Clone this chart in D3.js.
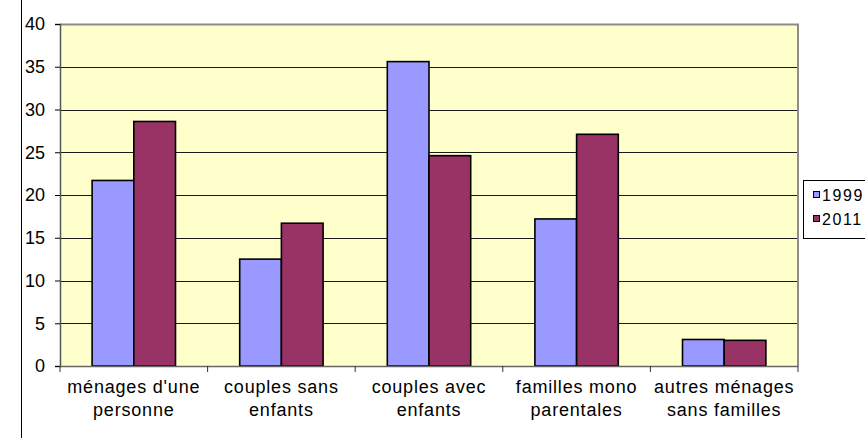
<!DOCTYPE html>
<html>
<head>
<meta charset="utf-8">
<script src="https://cdn.jsdelivr.net/npm/d3@7/dist/d3.min.js"></script>
<style>
  html, body { margin: 0; padding: 0; background: #fff; }
  svg { display: block; font-family: "Liberation Sans", Arial, sans-serif; }
</style>
</head>
<body>
<svg id="chart" width="865" height="438"></svg>
<script>
// Household types, share in percent
const categories = [
  ["ménages d'une", "personne"],
  ["couples sans", "enfants"],
  ["couples avec", "enfants"],
  ["familles mono", "parentales"],
  ["autres ménages", "sans familles"]
];
const series = ["1999", "2011"];
const values1999 = [21.7, 12.5, 35.6, 17.2, 3.1];
const values2011 = [28.6, 16.7, 24.6, 27.1, 3.0];
const yTicks = [0, 5, 10, 15, 20, 25, 30, 35, 40];
const colors = ["#9999FF", "#993366"];

const svg = d3.select("#chart");
const plot = { left: 60, right: 798, top: 24, bottom: 366 };
const catKeys = categories.map(c => c.join(" "));

const x = d3.scaleBand().domain(catKeys).range([plot.left, plot.right]).padding(0);
const xs = d3.scaleBand().domain(series).range([0, x.bandwidth()])
  .paddingInner(0).paddingOuter(0.77);
const y = d3.scaleLinear().domain([0, 40]).range([plot.bottom, plot.top]);

// outer frame line on the left
svg.append("line").attr("x1", 21.5).attr("x2", 21.5).attr("y1", 0).attr("y2", 438)
  .attr("stroke", "#000").attr("stroke-width", 1);

// plot background
svg.append("rect")
  .attr("x", plot.left).attr("y", plot.top)
  .attr("width", plot.right - plot.left).attr("height", plot.bottom - plot.top)
  .attr("fill", "#FFFFCC");

// horizontal gridlines
svg.append("g").selectAll("line").data(yTicks.filter(t => t > 0 && t < 40)).join("line")
  .attr("x1", plot.left).attr("x2", plot.right)
  .attr("y1", d => Math.round(y(d)) + 0.5).attr("y2", d => Math.round(y(d)) + 0.5)
  .attr("stroke", "#1a1a1a").attr("stroke-width", 1);

// plot border (top and right)
svg.append("path")
  .attr("d", `M${plot.left},${plot.top + 0.5}H${plot.right}V${plot.bottom}`)
  .attr("fill", "none").attr("stroke", "#8c8c8c").attr("stroke-width", 2);

// bars
const rows = catKeys.map((k, i) => ({ key: k, vals: [values1999[i], values2011[i]] }));
const groups = svg.append("g").selectAll("g").data(rows).join("g")
  .attr("transform", d => `translate(${x(d.key)},0)`);
groups.selectAll("rect").data(d => d.vals.map((v, j) => ({ s: series[j], v, j }))).join("rect")
  .attr("x", d => xs(d.s))
  .attr("y", d => y(d.v))
  .attr("width", xs.bandwidth())
  .attr("height", d => y(0) - y(d.v))
  .attr("fill", d => colors[d.j])
  .attr("stroke", "#000").attr("stroke-width", 1.6);

// y axis
const yAxis = d3.axisLeft(y).tickValues(yTicks).tickSize(5).tickPadding(10).tickFormat(d3.format("d"));
const gy = svg.append("g").attr("transform", `translate(${plot.left},0)`).call(yAxis);
gy.select(".domain").attr("stroke", "#555").attr("stroke-width", 1.5);
gy.selectAll(".tick line").attr("stroke", "#000");
gy.selectAll(".tick text").attr("font-size", 18).attr("fill", "#000")
  .attr("font-family", "Liberation Sans, Arial, sans-serif");

// x axis with category boundary ticks
const gx = svg.append("g").attr("transform", `translate(0,${plot.bottom})`);
gx.append("line").attr("x1", plot.left).attr("x2", plot.right).attr("y1", 0.5).attr("y2", 0.5)
  .attr("stroke", "#666").attr("stroke-width", 1.5);
const bounds = catKeys.map(k => x(k)).concat([x.range()[1]]);
gx.selectAll("line.tk").data(bounds).join("line").attr("class", "tk")
  .attr("x1", d => d).attr("x2", d => d).attr("y1", 0).attr("y2", 6)
  .attr("stroke", "#333").attr("stroke-width", 1);

// category labels, two lines each
const lab = svg.append("g").selectAll("text").data(categories).join("text")
  .attr("text-anchor", "middle")
  .attr("font-size", 18).attr("letter-spacing", 0.8).attr("fill", "#000")
  .attr("x", (d, i) => x(catKeys[i]) + x.bandwidth() / 2)
  .attr("y", 393);
lab.selectAll("tspan").data(d => d).join("tspan")
  .attr("x", function () { return this.parentNode.getAttribute("x"); })
  .attr("dy", (d, i) => i === 0 ? 0 : 22.5)
  .text(d => d);

// legend
const lg = svg.append("g");
lg.append("rect").attr("x", 803.5).attr("y", 180.5).attr("width", 80).attr("height", 58)
  .attr("fill", "#fff").attr("stroke", "#000").attr("stroke-width", 1);
const items = lg.selectAll("g").data(series).join("g")
  .attr("transform", (d, i) => `translate(0,${195 + i * 24})`);
items.append("rect").attr("x", 813.5).attr("y", -3.5).attr("width", 6).attr("height", 6)
  .attr("fill", (d, i) => colors[i]).attr("stroke", "#000").attr("stroke-width", 1);
items.append("text").attr("x", 822).attr("y", 0).attr("dy", "0.36em")
  .attr("font-size", 16).attr("letter-spacing", 1.6).attr("fill", "#000")
  .text(d => d);
</script>
</body>
</html>
